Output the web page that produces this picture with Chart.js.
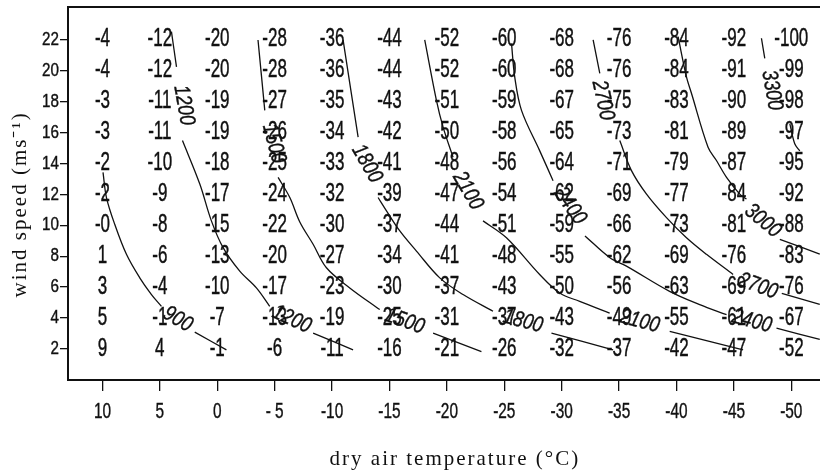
<!DOCTYPE html>
<html>
<head>
<meta charset="utf-8">
<script src="https://cdn.jsdelivr.net/npm/chart.js@4.4.1/dist/chart.umd.min.js"></script>
<style>
  html, body { margin: 0; padding: 0; background: #fff; }
</style>
</head>
<body>
<canvas id="chart" width="820" height="473"></canvas>
<script>
// --------------------------------------------------------------------------
// Data: columns = dry air temperature, rows = wind speed
// --------------------------------------------------------------------------
const temperatures = [10, 5, 0, -5, -10, -15, -20, -25, -30, -35, -40, -45, -50];
const tempLabels = ['10', '5', '0', '- 5', '-10', '-15', '-20', '-25', '-30', '-35', '-40', '-45', '-50'];
const windSpeeds = [22, 20, 18, 16, 14, 12, 10, 8, 6, 4, 2];

// equivalent (wind chill) temperature for every cell
const row22 = [-4, -12, -20, -28, -36, -44, -52, -60, -68, -76, -84, -92, -100];
const row20 = [-4, -12, -20, -28, -36, -44, -52, -60, -68, -76, -84, -91, -99];
const row18 = [-3, -11, -19, -27, -35, -43, -51, -59, -67, -75, -83, -90, -98];
const row16 = [-3, -11, -19, -26, -34, -42, -50, -58, -65, -73, -81, -89, -97];
const row14 = [-2, -10, -18, -25, -33, -41, -48, -56, -64, -71, -79, -87, -95];
const row12 = [-2, -9, -17, -24, -32, -39, -47, -54, -62, -69, -77, -84, -92];
const row10 = [-0, -8, -15, -22, -30, -37, -44, -51, -59, -66, -73, -81, -88];
const row8  = [1, -6, -13, -20, -27, -34, -41, -48, -55, -62, -69, -76, -83];
const row6  = [3, -4, -10, -17, -23, -30, -37, -43, -50, -56, -63, -69, -76];
const row4  = [5, -1, -7, -13, -19, -25, -31, -37, -43, -49, -55, -61, -67];
const row2  = [9, 4, -1, -6, -11, -16, -21, -26, -32, -37, -42, -47, -52];
const chillRows = [row22, row20, row18, row16, row14, row12, row10, row8, row6, row4, row2];

// wind chill isolines, [temperature, wind speed]; null = gap left for a label
const iso900 = [[9.95, 13.42], [9.65, 11.79], [8.93, 10.06], [7.91, 8.12], [6.75, 6.60], [5.73, 5.52], [4.86, 4.76],
  null, [1.96, 3.09], [-0.80, 1.95]];
const iso1200 = [[3.99, 22.51], [3.55, 20.23],
  null, [3.03, 15.47], [1.52, 12.66], [0.51, 10.28], [-0.51, 8.55], [-1.96, 7.03], [-3.41, 5.95], [-4.57, 4.76],
  null, [-8.35, 3.03], [-11.83, 1.95]];
const iso1500 = [[-3.55, 21.97], [-4.14, 17.42],
  null, [-5.30, 13.09], [-6.32, 11.79], [-7.19, 10.21], [-8.35, 8.77], [-9.51, 7.25], [-11.54, 5.95], [-14.15, 4.55],
  null, [-18.80, 3.03], [-23.01, 1.84]];
const iso1800 = [[-10.96, 21.97], [-12.27, 15.69],
  null, [-14.01, 11.79], [-14.74, 10.93], [-15.90, 9.63], [-17.35, 8.33], [-19.38, 6.60], [-21.41, 5.52], [-24.02, 4.44],
  null, [-29.11, 3.03], [-34.48, 1.95]];
const iso2100 = [[-18.07, 21.97], [-19.09, 18.07], [-19.67, 16.34], [-20.54, 14.39],
  null, [-23.15, 10.28], [-25.19, 9.19], [-28.08, 6.82], [-29.83, 5.62], [-31.57, 5.08], [-34.18, 4.32],
  null, [-39.41, 3.14], [-45.80, 1.95]];
const iso2400 = [[-25.63, 21.75], [-25.91, 19.58], [-26.50, 17.42], [-28.08, 14.82], [-29.25, 12.88],
  null, [-32.03, 9.31], [-34.20, 7.90], [-35.64, 7.36], [-39.40, 5.73], [-42.02, 4.87], [-44.36, 4.22],
  null, [-48.71, 3.35], [-52.48, 2.62]];
const iso2700 = [[-32.74, 21.97], [-33.32, 19.81],
  null, [-35.06, 15.47], [-36.08, 13.53], [-37.39, 12.01], [-39.13, 10.49], [-40.87, 9.19], [-42.61, 8.12], [-44.93, 6.82],
  null, [-49.17, 5.60], [-52.48, 4.89]];
const iso3000 = [[-40.14, 22.18], [-40.87, 19.58], [-41.31, 18.51], [-42.75, 15.04], [-43.48, 14.18], [-44.36, 13.09],
  [-45.51, 12.01], [-46.10, 11.69],
  null, [-49.00, 9.09], [-52.48, 8.14]];
const iso3300 = [[-47.40, 22.08], [-47.69, 20.78],
  null, [-49.87, 16.56], [-50.30, 15.26], [-50.74, 14.80]];
const isolines = [iso900, iso1200, iso1500, iso1800, iso2100, iso2400, iso2700, iso3000, iso3300];

// isoline labels: text, temperature, wind speed, angle (deg)
const isoLabels = [
  ['900', 3.44, 3.92, 30],
  ['1200', 2.92, 17.75, 80], ['1200', -6.49, 3.92, 25],
  ['1500', -4.92, 15.28, 75], ['1500', -16.33, 3.79, 20],
  ['1800', -13.02, 13.98, 60], ['1800', -26.63, 3.79, 15],
  ['2100', -21.82, 12.23, 60], ['2100', -36.79, 3.79, 15],
  ['2400', -30.72, 11.25, 55], ['2400', -46.56, 3.79, 15],
  ['2700', -33.58, 18.07, 78], ['2700', -47.10, 6.06, 20],
  ['3000', -47.51, 10.28, 40],
  ['3300', -48.30, 18.72, 80]
];

// --------------------------------------------------------------------------
// Datasets: every isoline piece becomes its own line
// --------------------------------------------------------------------------
const datasets = [];
isolines.forEach(line => {
  let piece = [];
  line.concat([null]).forEach(p => {
    if (p === null) {
      if (piece.length) datasets.push({
        data: piece,
        showLine: true,
        borderColor: '#111',
        borderWidth: 1.3,
        pointRadius: 0,
        tension: 0.35
      });
      piece = [];
    } else {
      piece.push({ x: p[0], y: p[1] });
    }
  });
});

const INK = '#111';
const SANS = '"Liberation Sans", Arial, sans-serif';
const SERIF = '"Liberation Serif", "Times New Roman", serif';

// condensed text: squeeze horizontally, optional rotation, optional extra weight
function drawNarrow(ctx, text, px, py, squeeze, angle, weight) {
  ctx.save();
  ctx.translate(px, py);
  if (angle) ctx.rotate(angle * Math.PI / 180);
  ctx.scale(squeeze, 1);
  ctx.fillText(text, 0, 0);
  if (weight) {
    ctx.lineWidth = weight;
    ctx.strokeText(text, 0, 0);
  }
  ctx.restore();
}

function cellText(v) {
  return Object.is(v, -0) ? '-0' : String(v);
}

const chillText = {
  id: 'chillText',
  beforeDraw(chart) {
    // a bit of letter spacing for the serif axis titles
    chart.ctx.letterSpacing = '2px';
  },
  beforeDatasetsDraw(chart) {
    const { ctx, scales: { x, y } } = chart;
    ctx.letterSpacing = '0px';
    ctx.save();
    ctx.fillStyle = INK;
    ctx.strokeStyle = INK;
    ctx.font = '25px ' + SANS;
    ctx.textAlign = 'center';
    ctx.textBaseline = 'middle';
    chillRows.forEach((row, i) => {
      const py = y.getPixelForValue(windSpeeds[i]);
      row.forEach((v, j) => {
        drawNarrow(ctx, cellText(v), x.getPixelForValue(temperatures[j]), py, 0.68, 0, 0.45);
      });
    });
    ctx.restore();
  },
  afterDatasetsDraw(chart) {
    const { ctx, scales: { x, y } } = chart;
    ctx.save();
    ctx.fillStyle = INK;
    ctx.strokeStyle = INK;
    ctx.font = 'italic 22px ' + SANS;
    ctx.textAlign = 'center';
    ctx.textBaseline = 'middle';
    isoLabels.forEach(([txt, t, w, a]) => {
      drawNarrow(ctx, txt, x.getPixelForValue(t), y.getPixelForValue(w), 0.82, a, 0.4);
    });
    ctx.restore();
  },
  afterDraw(chart) {
    const { ctx, chartArea, scales: { x, y } } = chart;
    ctx.save();
    // top frame line
    ctx.strokeStyle = INK;
    ctx.lineWidth = 2;
    ctx.beginPath();
    ctx.moveTo(chartArea.left, chartArea.top);
    ctx.lineTo(chartArea.right, chartArea.top);
    ctx.stroke();

    ctx.fillStyle = INK;
    ctx.textBaseline = 'middle';
    // x tick labels
    ctx.font = '22px ' + SANS;
    ctx.textAlign = 'center';
    x.ticks.forEach(t => {
      const i = temperatures.indexOf(t.value);
      drawNarrow(ctx, tempLabels[i], x.getPixelForValue(t.value), chartArea.bottom + 32, 0.7, 0, 0.4);
    });
    // y tick labels
    ctx.font = '19px ' + SANS;
    ctx.textAlign = 'right';
    y.ticks.forEach(t => {
      drawNarrow(ctx, String(t.value), chartArea.left - 9, y.getPixelForValue(t.value), 0.8, 0, 0.4);
    });
    ctx.restore();
  }
};

new Chart(document.getElementById('chart'), {
  type: 'scatter',
  data: { datasets },
  options: {
    responsive: false,
    animation: false,
    layout: { padding: { top: 7, left: 0, right: 0, bottom: 0 } },
    plugins: { legend: { display: false }, tooltip: { enabled: false } },
    scales: {
      x: {
        type: 'linear',
        reverse: true,
        min: -52.5,
        max: 13,
        afterBuildTicks: s => { s.ticks = temperatures.map(v => ({ value: v })); },
        afterFit: s => { s.height = 93; },
        ticks: { display: false },
        grid: { drawOnChartArea: false, drawTicks: true, tickLength: 11, color: INK, lineWidth: 1.3 },
        border: { display: true, color: INK, width: 2 },
        title: {
          display: true,
          // leading blanks nudge the centred title a little to the right, as in the original
          text: '   dry air temperature (°C)',
          color: INK,
          font: { family: SERIF, size: 21 },
          padding: { top: 0, bottom: 1 }
        }
      },
      y: {
        type: 'linear',
        min: 0,
        max: 24.1,
        afterBuildTicks: s => { s.ticks = windSpeeds.map(v => ({ value: v })); },
        afterFit: s => { s.width = 68; },
        ticks: { display: false },
        grid: { drawOnChartArea: false, drawTicks: true, tickLength: 8, color: INK, lineWidth: 1.3 },
        border: { display: true, color: INK, width: 2 },
        title: {
          display: true,
          text: 'wind speed (ms⁻¹)   ',
          color: INK,
          font: { family: SERIF, size: 21 },
          padding: { top: 8, bottom: 0 }
        }
      }
    }
  },
  plugins: [chillText]
});
</script>
</body>
</html>
